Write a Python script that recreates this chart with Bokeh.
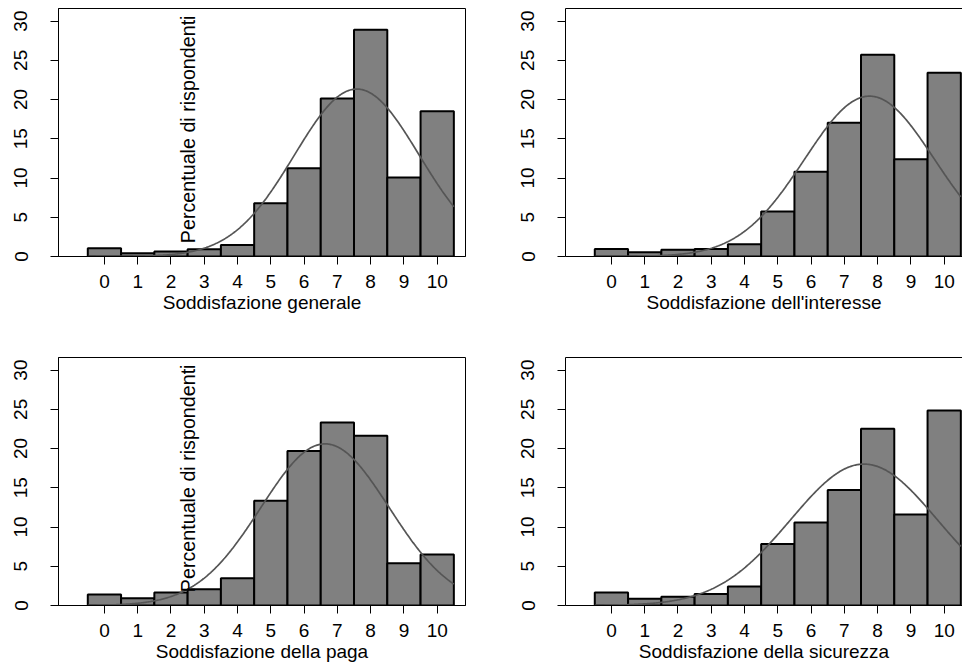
import numpy as np
from bokeh.plotting import figure
from bokeh.layouts import column, row
from bokeh.models import Range1d, FixedTicker, LinearAxis
from bokeh.core.properties import value
from bokeh.embed import file_html
from bokeh.resources import INLINE

# ---- data (percent of respondents for each score 0..10) ----
scores = [0, 1, 2, 3, 4, 5, 6, 7, 8, 9, 10]
generale = [1.06, 0.42, 0.64, 0.93, 1.48, 6.78, 11.23, 20.13, 28.90, 10.08, 18.50]
interesse = [0.97, 0.55, 0.85, 0.97, 1.57, 5.72, 10.80, 17.03, 25.70, 12.40, 23.40]
paga = [1.40, 0.93, 1.65, 2.08, 3.48, 13.36, 19.69, 23.33, 21.64, 5.39, 6.49]
sicurezza = [1.65, 0.85, 1.10, 1.48, 2.42, 7.85, 10.56, 14.72, 22.53, 11.58, 24.86]
x_titles = ["Soddisfazione generale", "Soddisfazione dell'interesse",
            "Soddisfazione della paga", "Soddisfazione della sicurezza"]
y_ticks = [0, 5, 10, 15, 20, 25, 30]
y_title = "Percentuale di rispondenti"

FONT = "Liberation Sans"
FS = "19px"
BAR_FILL = "#808080"
CURVE = "#555555"


def make_panel(vals, xlabel, left_col, top_row):
    width = 508 if left_col else 454
    height = 340 if top_row else 324
    x_start = -1.38
    x_end = 10.85 if left_col else 10.55
    p = figure(width=width, height=height, output_backend="svg", toolbar_location=None,
               x_range=Range1d(x_start, x_end), y_range=Range1d(0, 31.6),
               min_border_left=58 if left_col else 57,
               min_border_right=43 if left_col else 0,
               min_border_top=8 if top_row else 17,
               min_border_bottom=84 if top_row else 59)
    p.xgrid.visible = False
    p.ygrid.visible = False
    p.background_fill_color = "white"
    p.border_fill_color = "white"
    xax = p.below[0]
    yax = p.left[0]
    if left_col:
        p.outline_line_color = "black"
        p.outline_line_width = 1
        p.outline_line_alpha = 1
    else:
        p.outline_line_color = None
        top = LinearAxis(ticker=FixedTicker(ticks=[]), major_label_text_font_size="0px",
                         major_tick_out=0, major_tick_in=0, minor_tick_out=0, minor_tick_in=0,
                         major_label_standoff=0, axis_line_color="black", axis_line_width=1)
        p.add_layout(top, "above")

    # bars
    p.vbar(x=scores, width=1.0, bottom=0, top=vals, fill_color=BAR_FILL,
           line_color="black", line_width=2)

    # normal density fitted to the distribution (as the original overlay)
    sc = np.array(scores, dtype=float)
    v = np.array(vals, dtype=float)
    tot = v.sum()
    mu = (sc * v).sum() / tot
    sd = np.sqrt(((sc - mu) ** 2 * v).sum() / tot)
    xs = np.linspace(scores[0] - 0.5, scores[-1] + 0.5, 400)
    ys = tot * np.exp(-0.5 * ((xs - mu) / sd) ** 2) / (sd * np.sqrt(2 * np.pi))
    p.line(xs, ys, line_color=CURVE, line_width=1.7)

    if left_col:
        p.text(x=[2.5], y=[1.7], text=[y_title], angle=np.pi / 2, text_align="left",
               text_baseline="middle", text_font=value(FONT), text_font_size="19.7px",
               text_color="black")

    for ax in (xax, yax):
        ax.axis_line_color = "black"
        ax.axis_line_width = 1
        ax.major_tick_line_color = "black"
        ax.major_tick_line_width = 1
        ax.major_tick_in = 0
        ax.major_tick_out = 8
        ax.minor_tick_line_color = None
        ax.major_label_text_font = FONT
        ax.major_label_text_font_size = FS
        ax.major_label_text_color = "black"
    xax.ticker = FixedTicker(ticks=scores)
    yax.ticker = FixedTicker(ticks=y_ticks)
    yax.major_label_orientation = "parallel"
    yax.major_label_standoff = 23
    xax.major_label_standoff = 10
    xax.axis_label = xlabel
    xax.axis_label_text_font = FONT
    xax.axis_label_text_font_size = FS
    xax.axis_label_text_font_style = "normal"
    xax.axis_label_text_color = "black"
    xax.axis_label_standoff = 1
    return p


p1 = make_panel(generale, x_titles[0], True, True)
p2 = make_panel(interesse, x_titles[1], False, True)
p3 = make_panel(paga, x_titles[2], True, False)
p4 = make_panel(sicurezza, x_titles[3], False, False)

layout = column(row(p1, p2, spacing=0), row(p3, p4, spacing=0), spacing=0)
open("out.html", "w").write(file_html(layout, INLINE))
